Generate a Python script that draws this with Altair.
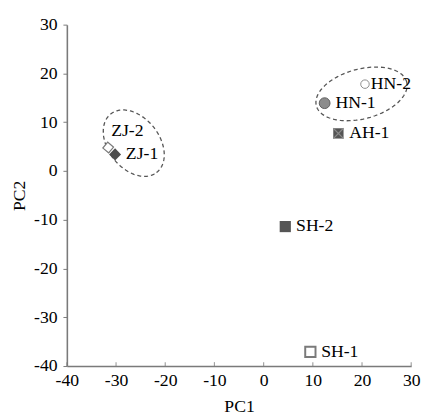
import altair as alt
import numpy as np
import pandas as pd

# ---- data ----
samples = ["ZJ-1", "ZJ-2", "HN-1", "HN-2", "AH-1", "SH-1", "SH-2"]
pc1 = [-30.2, -31.6, 12.4, 20.6, 15.2, 9.5, 4.4]
pc2 = [3.4, 4.8, 13.9, 17.8, 7.7, -37.1, -11.4]

tick_values = [-40, -30, -20, -10, 0, 10, 20, 30]

# dashed group ellipses (centre, semi-axes in data units, rotation in degrees)
ell_group = ["ZJ", "HN"]
ell_cx = [-26.4, 19.9]
ell_cy = [5.7, 15.8]
ell_a = [7.6, 9.5]
ell_b = [5.2, 5.1]
ell_angle = [-52.5, 15.0]

df = pd.DataFrame({"sample": samples, "PC1": pc1, "PC2": pc2})

rows = []
t = np.linspace(0, 2 * np.pi, 121)
for g, cx, cy, a, b, ang in zip(ell_group, ell_cx, ell_cy, ell_a, ell_b, ell_angle):
    th = np.deg2rad(ang)
    xs = cx + a * np.cos(t) * np.cos(th) - b * np.sin(t) * np.sin(th)
    ys = cy + a * np.cos(t) * np.sin(th) + b * np.sin(t) * np.cos(th)
    for i, (xx, yy) in enumerate(zip(xs, ys)):
        rows.append({"group": g, "i": i, "PC1": xx, "PC2": yy})
ell_df = pd.DataFrame(rows)

FONT = "Liberation Serif, Times New Roman, serif"
AXIS_GRAY = "#7a7a7a"
LABEL_EXPR = "toString(datum.value)"

xscale = alt.Scale(domain=[-40, 30], nice=False, zero=False)
yscale = alt.Scale(domain=[-40, 30], nice=False, zero=False)

X = alt.X("PC1:Q", scale=xscale,
          axis=alt.Axis(values=tick_values, title="PC1", grid=False, tickSize=0,
                        labelPadding=6, titlePadding=8, domainColor=AXIS_GRAY,
                        domainWidth=1.6, labelFontSize=18, titleFontSize=18,
                        labelFont=FONT, titleFont=FONT, labelColor="black",
                        titleColor="black", titleFontWeight="normal",
                        labelFlush=False, labelExpr=LABEL_EXPR))
Y = alt.Y("PC2:Q", scale=yscale,
          axis=alt.Axis(values=tick_values, title="PC2", grid=False, tickSize=4,
                        tickColor=AXIS_GRAY, labelPadding=6, titlePadding=5,
                        domainColor=AXIS_GRAY, domainWidth=1.6, labelFontSize=18,
                        titleFontSize=18, labelFont=FONT, titleFont=FONT,
                        labelColor="black", titleColor="black",
                        titleFontWeight="normal", labelFlush=False,
                        labelExpr=LABEL_EXPR))

base = alt.Chart(df).encode(x=X, y=Y)

# inward ticks on the x axis
ticks_df = pd.DataFrame({"t": tick_values})
xticks = alt.Chart(ticks_df).mark_tick(orient="vertical", size=4, thickness=1.2,
                                       color=AXIS_GRAY, yOffset=-2).encode(
    x=alt.X("t:Q", scale=xscale), y=alt.Y(datum=-40, scale=yscale))

ellipses = alt.Chart(ell_df).mark_line(strokeDash=[4, 3], color="#555555",
                                       strokeWidth=1.3).encode(
    x=alt.X("PC1:Q", scale=xscale), y=alt.Y("PC2:Q", scale=yscale),
    detail="group:N", order="i:Q")


def pick(name):
    return base.transform_filter(alt.datum.sample == name)


zj1 = pick("ZJ-1").mark_point(shape="diamond", size=150, filled=True,
                              color="#4d4d4d", opacity=1)
zj2 = pick("ZJ-2").mark_point(shape="square", size=60, angle=40, fill="white",
                              stroke="#7a7a7a", strokeWidth=1.2, opacity=1,
                              fillOpacity=1)
hn1 = pick("HN-1").mark_point(shape="circle", size=121, fill="#8c8c8c",
                              stroke="#5e5e5e", strokeWidth=1, opacity=1,
                              fillOpacity=1)
hn2 = pick("HN-2").mark_point(shape="circle", size=75, fill="white",
                              stroke="#8c8c8c", strokeWidth=1, opacity=1,
                              fillOpacity=1)
ah1 = pick("AH-1").mark_point(shape="square", size=110, filled=True,
                              color="#555555", opacity=1)
ah1x = pick("AH-1").mark_point(shape="M-1,-1L1,1M-1,1L1,-1", size=110,
                               filled=False, color="#8a8a8a", strokeWidth=1.2,
                               opacity=1)
sh1 = pick("SH-1").mark_point(shape="square", size=110, fill="white",
                              stroke="#7a7a7a", strokeWidth=2, opacity=1,
                              fillOpacity=1)
sh2 = pick("SH-2").mark_point(shape="square", size=130, filled=True,
                              color="#555555", opacity=1)

label_style = dict(align="left", baseline="middle", font=FONT, fontSize=18,
                   color="black")
labels_main = base.transform_filter(
    alt.FieldOneOfPredicate(field="sample",
                            oneOf=["ZJ-1", "HN-1", "AH-1", "SH-1", "SH-2"])
).mark_text(dx=11, **label_style).encode(text="sample:N")
label_hn2 = pick("HN-2").mark_text(dx=6, **label_style).encode(text="sample:N")
label_zj2 = pick("ZJ-2").mark_text(dx=3, dy=-17, **label_style).encode(text="sample:N")

chart = alt.layer(
    ellipses, xticks, zj2, zj1, hn1, hn2, ah1, ah1x, sh1, sh2,
    labels_main, label_hn2, label_zj2
).properties(
    width=351, height=348,
    padding={"left": 60, "top": 13, "right": 11, "bottom": 50},
    autosize=alt.AutoSizeParams(type="none"),
    background="white",
).configure_view(stroke=None)

chart.save("out.html", embed_options={"renderer": "svg", "actions": False})
